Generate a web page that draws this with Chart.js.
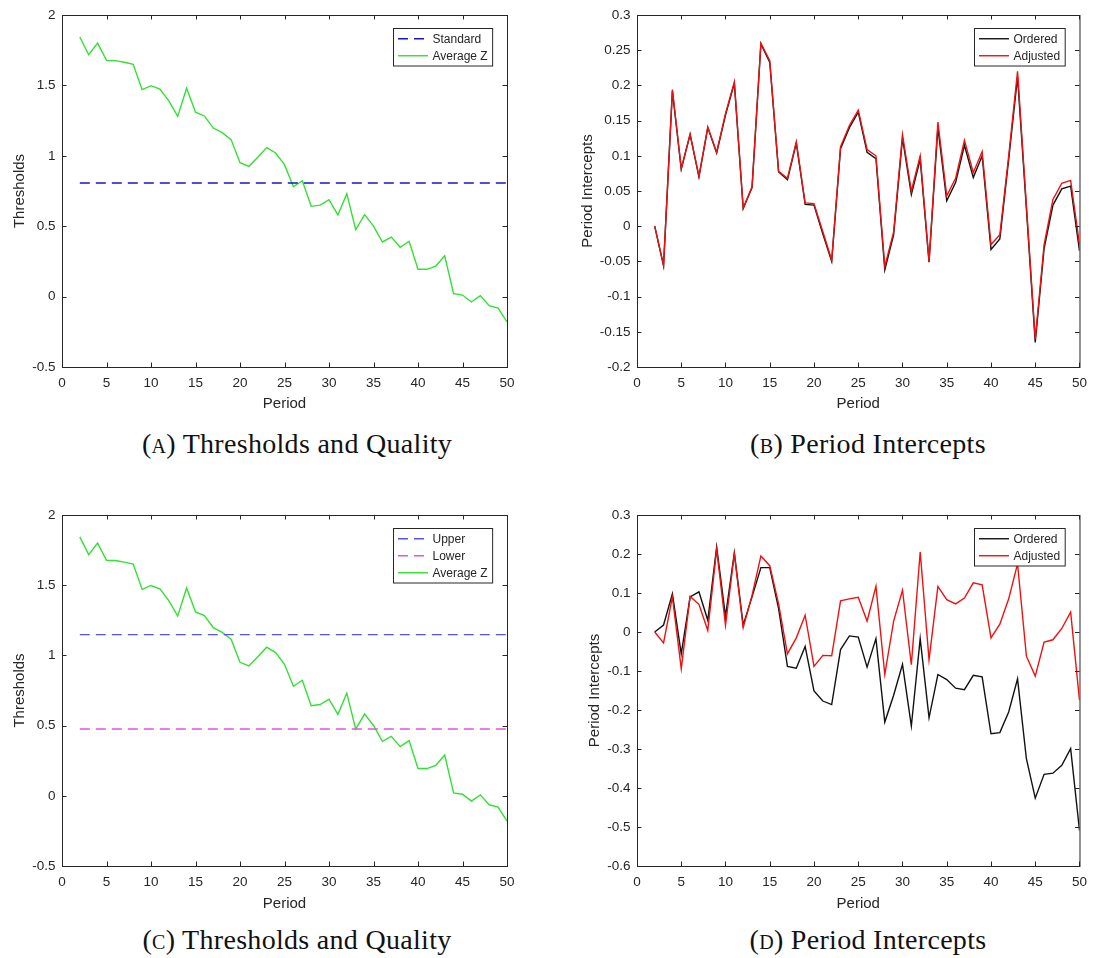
<!DOCTYPE html>
<html>
<head>
<meta charset="utf-8">
<title>Thresholds and Period Intercepts</title>
<script src="https://cdn.jsdelivr.net/npm/chart.js@4.4.1/dist/chart.umd.min.js"></script>
<style>
    body { margin: 0; background: #fff; width: 1095px; height: 958px; position: relative; overflow: hidden; }
    canvas { position: absolute; }
    .cap { position: absolute; width: 500px; text-align: center; line-height: 30px; height: 30px;
           font-family: "Liberation Serif", "Times New Roman", serif; font-size: 28px; letter-spacing: 0.3px;
           color: #111; white-space: nowrap; }
    .sc { font-variant: small-caps; }
</style>
</head>
<body>
<canvas id="chA" width="525" height="420" style="left:0;top:0"></canvas>
<canvas id="chB" width="525" height="420" style="left:570px;top:0"></canvas>
<canvas id="chC" width="525" height="420" style="left:0;top:500px"></canvas>
<canvas id="chD" width="525" height="420" style="left:570px;top:500px"></canvas>

<div class="cap" style="left:47px;top:429px">(<span class="sc">a</span>) Thresholds and Quality</div>
<div class="cap" style="left:618px;top:429px">(<span class="sc">b</span>) Period Intercepts</div>
<div class="cap" style="left:47px;top:925px">(<span class="sc">c</span>) Thresholds and Quality</div>
<div class="cap" style="left:618px;top:925px">(<span class="sc">d</span>) Period Intercepts</div>

<script>
    // periods 2..50
    const periods = [2, 3, 4, 5, 6, 7, 8, 9, 10, 11, 12, 13, 14, 15, 16, 17, 18, 19, 20, 21, 22, 23, 24, 25, 26,
        27, 28, 29, 30, 31, 32, 33, 34, 35, 36, 37, 38, 39, 40, 41, 42, 43, 44, 45, 46, 47, 48, 49, 50];

    const periodTicks = [0, 5, 10, 15, 20, 25, 30, 35, 40, 45, 50];
    const thresholdTicks = [-0.5, 0, 0.5, 1, 1.5, 2];
    const interceptTicksB = [-0.2, -0.15, -0.1, -0.05, 0, 0.05, 0.1, 0.15, 0.2, 0.25, 0.3];
    const interceptTicksD = [-0.6, -0.5, -0.4, -0.3, -0.2, -0.1, 0, 0.1, 0.2, 0.3];

    const averageZ = [1.844, 1.718, 1.80, 1.678, 1.676, 1.664, 1.65, 1.47, 1.498, 1.474, 1.39, 1.28, 1.48,
        1.31, 1.283, 1.197, 1.164, 1.115, 0.951, 0.925, 0.99, 1.058, 1.02, 0.937, 0.78, 0.823, 0.641, 0.65,
        0.688, 0.58, 0.731, 0.475, 0.582, 0.501, 0.388, 0.423, 0.35, 0.393, 0.194, 0.194, 0.217, 0.29,
        0.021, 0.011, -0.038, 0.007, -0.064, -0.081, -0.18];

    const standardLevel = 0.807;
    const upperLevel = 1.148;
    const lowerLevel = 0.476;

    const orderedB = [0, -0.056, 0.192, 0.081, 0.13, 0.07, 0.14, 0.104, 0.158, 0.203, 0.025, 0.055, 0.259,
        0.233, 0.077, 0.066, 0.118, 0.031, 0.03, -0.011, -0.05, 0.11, 0.14, 0.162, 0.105, 0.096, -0.062,
        -0.012, 0.125, 0.045, 0.095, -0.051, 0.14, 0.036, 0.062, 0.115, 0.069, 0.1, -0.033, -0.018, 0.095,
        0.212, 0.025, -0.165, -0.032, 0.03, 0.053, 0.057, -0.035];
    const adjustedB = [0, -0.056, 0.194, 0.082, 0.131, 0.071, 0.141, 0.105, 0.16, 0.205, 0.026, 0.056, 0.26,
        0.235, 0.078, 0.068, 0.12, 0.033, 0.032, -0.008, -0.048, 0.113, 0.143, 0.165, 0.109, 0.1, -0.057,
        -0.008, 0.13, 0.05, 0.1, -0.05, 0.148, 0.043, 0.068, 0.122, 0.076, 0.106, -0.026, -0.012, 0.1,
        0.22, 0.03, -0.16, -0.026, 0.038, 0.061, 0.065, -0.026];

    const orderedD = [0, 0.018, 0.098, -0.056, 0.09, 0.103, 0.03, 0.218, 0.04, 0.203, 0.018, 0.09, 0.165,
        0.165, 0.06, -0.088, -0.093, -0.037, -0.151, -0.177, -0.186, -0.045, -0.01, -0.013, -0.09, -0.017,
        -0.231, -0.162, -0.083, -0.241, -0.017, -0.22, -0.109, -0.122, -0.144, -0.148, -0.111, -0.115,
        -0.261, -0.258, -0.205, -0.12, -0.325, -0.426, -0.365, -0.362, -0.342, -0.299, -0.509];
    const adjustedD = [0, -0.028, 0.09, -0.094, 0.091, 0.071, 0.004, 0.212, 0.017, 0.2, 0.011, 0.094, 0.195,
        0.17, 0.072, -0.056, -0.015, 0.043, -0.088, -0.06, -0.061, 0.08, 0.085, 0.089, 0.028, 0.117, -0.109,
        0.028, 0.107, -0.084, 0.205, -0.071, 0.117, 0.083, 0.072, 0.087, 0.126, 0.121, -0.015, 0.02, 0.085,
        0.175, -0.062, -0.113, -0.026, -0.02, 0.009, 0.051, -0.175];

    const axisInk = '#262626';
    const sansFamily = '"Liberation Sans", Arial, sans-serif';
    const tickLen = 4.5;

    const pts = ys => periods.map((x, i) => ({x: x, y: ys[i]}));
    const flat = level => [{x: periods[0], y: level}, {x: periods[periods.length - 1], y: level}];
    const fmt = v => String(Math.round(v * 100) / 100);

    // axes box with inward ticks on all four sides
    const frame = {
        id: 'frame',
        afterDatasetsDraw(chart) {
            const {ctx, chartArea: a, scales: {x, y}} = chart;
            ctx.save();
            ctx.strokeStyle = axisInk;
            ctx.lineWidth = 1;
            ctx.strokeRect(a.left + 0.5, a.top + 0.5, a.right - a.left, a.bottom - a.top);
            ctx.beginPath();
            x.ticks.forEach(t => {
                const px = Math.round(x.getPixelForValue(t.value)) + 0.5;
                ctx.moveTo(px, a.bottom); ctx.lineTo(px, a.bottom - tickLen);
                ctx.moveTo(px, a.top); ctx.lineTo(px, a.top + tickLen);
            });
            y.ticks.forEach(t => {
                const py = Math.round(y.getPixelForValue(t.value)) + 0.5;
                ctx.moveTo(a.left, py); ctx.lineTo(a.left + tickLen, py);
                ctx.moveTo(a.right, py); ctx.lineTo(a.right - tickLen, py);
            });
            ctx.stroke();
            ctx.restore();
        }
    };

    // boxed legend in the upper right corner of the plot
    const boxLegend = {
        id: 'boxLegend',
        afterDraw(chart) {
            const {ctx, chartArea: a} = chart;
            const sets = chart.data.datasets;
            ctx.save();
            ctx.font = '12px ' + sansFamily;
            const textW = Math.max(...sets.map(d => ctx.measureText(d.label).width));
            const rowH = 17, sampleW = 30, padL = 4.5, gap = 4.5, padR = 5;
            const w = padL + sampleW + gap + textW + padR;
            const h = sets.length * rowH + 3.5;
            const left = Math.round(a.right - 15 - w) + 0.5;
            const top = Math.round(a.top + 12.5) + 0.5;
            ctx.fillStyle = '#fff';
            ctx.fillRect(left, top, w, h);
            ctx.strokeStyle = axisInk;
            ctx.lineWidth = 1;
            ctx.strokeRect(left, top, w, h);
            sets.forEach((d, i) => {
                const cy = top + 1.75 + rowH * (i + 0.5);
                ctx.beginPath();
                ctx.setLineDash(d.borderDash || []);
                ctx.strokeStyle = d.borderColor;
                ctx.lineWidth = d.borderWidth || 1.4;
                ctx.moveTo(left + padL, cy);
                ctx.lineTo(left + padL + sampleW, cy);
                ctx.stroke();
                ctx.setLineDash([]);
                ctx.fillStyle = axisInk;
                ctx.textBaseline = 'middle';
                ctx.fillText(d.label, left + padL + sampleW + gap, cy + 0.5);
            });
            ctx.restore();
        }
    };

    function makeChart(id, area, yTicks, yTitle, yTitlePad, datasets) {
        const cv = document.getElementById(id);
        const W = cv.width, H = cv.height;
        return new Chart(cv, {
            type: 'line',
            data: {datasets: datasets},
            options: {
                responsive: false,
                animation: false,
                devicePixelRatio: 1,
                layout: {padding: {left: 0, top: area.t, right: W - area.r, bottom: 0}},
                plugins: {legend: {display: false}, tooltip: {enabled: false}},
                elements: {point: {radius: 0}, line: {tension: 0, borderWidth: 1.4}},
                scales: {
                    x: {
                        type: 'linear', min: 0, max: 50,
                        grid: {display: false, drawTicks: false},
                        border: {display: false},
                        afterBuildTicks: s => { s.ticks = periodTicks.map(v => ({value: v})); },
                        afterFit: s => { s.height = H - area.b; },
                        ticks: {padding: 8, color: axisInk, font: {family: sansFamily, size: 13.5},
                            callback: fmt, maxRotation: 0, autoSkip: false},
                        title: {display: true, text: 'Period', color: axisInk,
                            font: {family: sansFamily, size: 15}, padding: {top: 0, bottom: 7.5}}
                    },
                    y: {
                        type: 'linear', min: yTicks[0], max: yTicks[yTicks.length - 1],
                        grid: {display: false, drawTicks: false},
                        border: {display: false},
                        afterBuildTicks: s => { s.ticks = yTicks.map(v => ({value: v})); },
                        afterFit: s => { s.width = area.l; },
                        ticks: {padding: 6.5, color: axisInk, font: {family: sansFamily, size: 13.5},
                            callback: fmt, autoSkip: false},
                        title: {display: true, text: yTitle, color: axisInk,
                            font: {family: sansFamily, size: 15}, padding: {top: yTitlePad, bottom: 0}}
                    }
                }
            },
            plugins: [frame, boxLegend]
        });
    }

    const green = '#33e033';

    makeChart('chA', {l: 62, t: 15, r: 507, b: 367}, thresholdTicks, 'Thresholds', 11, [
        {label: 'Standard', data: flat(standardLevel), borderColor: '#1515cc', borderDash: [10, 6]},
        {label: 'Average Z', data: pts(averageZ), borderColor: green}
    ]);

    makeChart('chB', {l: 67, t: 15, r: 513, b: 367}, interceptTicksB, 'Period Intercepts', 9.3, [
        {label: 'Ordered', data: pts(orderedB), borderColor: '#111', order: 1},
        {label: 'Adjusted', data: pts(adjustedB), borderColor: '#ee1111', order: 0}
    ]);

    makeChart('chC', {l: 62, t: 15, r: 507, b: 366}, thresholdTicks, 'Thresholds', 11, [
        {label: 'Upper', data: flat(upperLevel), borderColor: '#5555ee', borderDash: [10, 6]},
        {label: 'Lower', data: flat(lowerLevel), borderColor: '#dd55dd', borderDash: [10, 6]},
        {label: 'Average Z', data: pts(averageZ), borderColor: green}
    ]);

    makeChart('chD', {l: 67, t: 15, r: 513, b: 366}, interceptTicksD, 'Period Intercepts', 15.8, [
        {label: 'Ordered', data: pts(orderedD), borderColor: '#111', order: 1},
        {label: 'Adjusted', data: pts(adjustedD), borderColor: '#ee1111', order: 0}
    ]);
</script>
</body>
</html>
